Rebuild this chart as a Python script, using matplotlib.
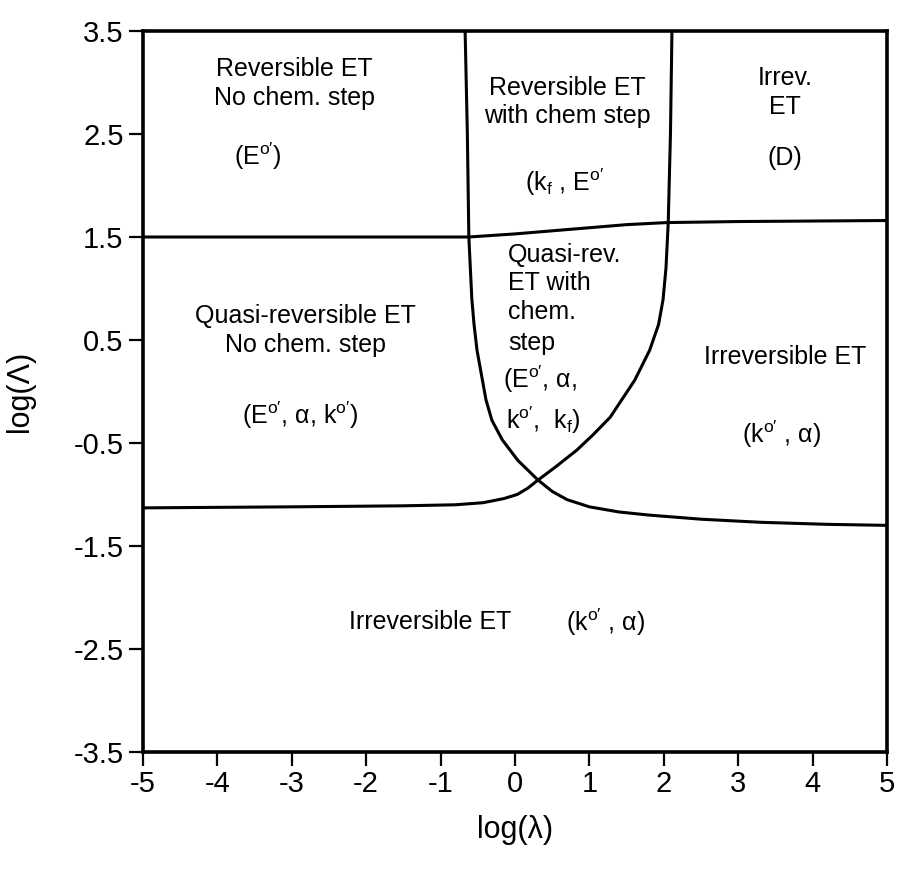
import matplotlib
matplotlib.use('Agg')
import matplotlib.pyplot as plt

plt.rcParams['font.family'] = ['Liberation Sans', 'DejaVu Sans']
plt.rcParams['mathtext.fontset'] = 'custom'
plt.rcParams['mathtext.rm'] = 'Liberation Sans'
plt.rcParams['mathtext.it'] = 'Liberation Sans:italic'
plt.rcParams['mathtext.bf'] = 'Liberation Sans:bold'

# boundary between reversible / irreversible chemistry (comes down from the top)
chem_x = [-0.67, -0.64, -0.62, -0.60, -0.58, -0.55, -0.51, -0.46, -0.39, -0.31,
          -0.17, 0.04, 0.31, 0.50, 0.70, 1.0, 1.4, 1.8, 2.5, 3.3, 4.2, 5.0]
chem_y = [3.5, 2.5, 1.5, 1.2, 0.9, 0.65, 0.4, 0.2, -0.08, -0.28,
          -0.47, -0.67, -0.86, -0.97, -1.05, -1.12, -1.17, -1.20, -1.24, -1.27, -1.29, -1.30]

# boundary of the quasi-reversible ET zone (left bottom up to the top)
et_x = [-5.0, -3.0, -1.5, -0.8, -0.43, -0.15, 0.03, 0.17, 0.31, 0.55, 0.83, 1.05,
        1.28, 1.61, 1.81, 1.93, 1.99, 2.03, 2.06, 2.09, 2.11]
et_y = [-1.13, -1.12, -1.11, -1.10, -1.08, -1.04, -1.00, -0.94, -0.86, -0.73, -0.57, -0.42,
        -0.25, 0.11, 0.40, 0.65, 0.89, 1.2, 1.64, 2.5, 3.5]

# reversible ET limit
rev_x = [-5.0, -0.62, 0.0, 0.5, 1.0, 1.5, 2.04, 3.0, 5.0]
rev_y = [1.50, 1.50, 1.53, 1.56, 1.59, 1.62, 1.64, 1.65, 1.66]

E0 = r'E$^{\mathrm{o}\prime}$'
k0 = r'k$^{\mathrm{o}\prime}$'
kf = r'k$_{\mathrm{f}}$'

# zone labels: text, x, y, alignment
labels = [
    ('Reversible ET\nNo chem. step', -2.96, 2.99, 'center'),
    ('(' + E0 + ')', -3.45, 2.28, 'center'),
    ('Reversible ET\nwith chem step', 0.70, 2.81, 'center'),
    ('(' + kf + ' , ' + E0, 0.67, 2.03, 'center'),
    ('Irrev.\nET', 3.63, 2.90, 'center'),
    ('(D)', 3.63, 2.27, 'center'),
    ('Quasi-reversible ET\nNo chem. step', -2.82, 0.59, 'center'),
    ('(' + E0 + ', α, ' + k0 + ')', -2.89, -0.23, 'center'),
    ('Quasi-rev.', -0.09, 1.33, 'left'),
    ('ET with', -0.09, 1.05, 'left'),
    ('chem.', -0.09, 0.77, 'left'),
    ('step', -0.09, 0.47, 'left'),
    ('(' + E0 + ', α,', -0.16, 0.12, 'left'),
    (k0 + ',  ' + kf + ')', -0.12, -0.28, 'left'),
    ('Irreversible ET', 3.63, 0.33, 'center'),
    ('(' + k0 + ' , α)', 3.58, -0.42, 'center'),
    ('Irreversible ET', -1.14, -2.24, 'center'),
    ('(' + k0 + ' , α)', 1.21, -2.24, 'center'),
]

fig = plt.figure(figsize=(8.97, 8.76), dpi=100)
ax = fig.add_axes([0.1594, 0.1416, 0.8294, 0.8230])

for xs, ys in [(chem_x, chem_y), (et_x, et_y), (rev_x, rev_y)]:
    ax.plot(xs, ys, color='black', lw=2.2, solid_joinstyle='round')

for txt, x, y, ha in labels:
    ax.text(x, y, txt, ha=ha, va='center', fontsize=18, linespacing=1.25)

ax.set_xlim(-5, 5)
ax.set_ylim(-3.5, 3.5)
ax.set_xticks(range(-5, 6))
ax.set_yticks([-3.5, -2.5, -1.5, -0.5, 0.5, 1.5, 2.5, 3.5])
ax.set_yticklabels(['-3.5', '-2.5', '-1.5', '-0.5', '0.5', '1.5', '2.5', '3.5'])
ax.set_xticklabels([str(v) for v in range(-5, 6)])
ax.tick_params(direction='out', length=10, width=1.6, labelsize=21)
ax.tick_params(axis='x', pad=3)
ax.tick_params(axis='y', pad=4)
for s in ax.spines.values():
    s.set_linewidth(2.6)

ax.set_xlabel('log(λ)', fontsize=22)
ax.set_ylabel('log(Λ)', fontsize=22)
ax.xaxis.set_label_coords(0.5, -0.088)
ax.yaxis.set_label_coords(-0.145, 0.5)

fig.savefig('out.png', dpi=100)
